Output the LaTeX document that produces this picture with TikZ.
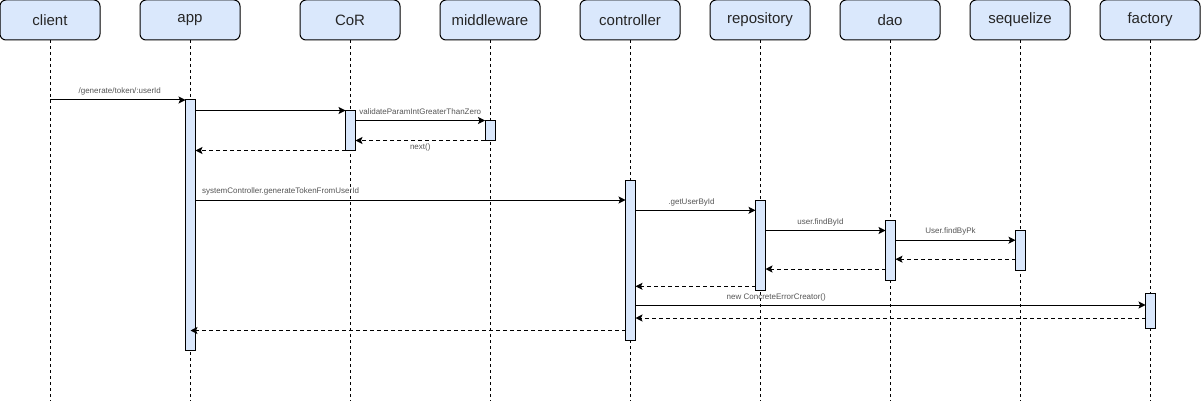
\documentclass[tikz,border=0pt]{standalone}
\usepackage{fontspec}
\setmainfont{Liberation Sans}
\usetikzlibrary{arrows.meta}
\definecolor{hfill}{HTML}{DAE8FC}
\definecolor{lblc}{HTML}{555555}
\tikzset{
  hdr/.style={draw=black, line width=1pt, fill=hfill, rounded corners=6pt,
    minimum width=100pt, minimum height=40pt, inner sep=0pt, outer sep=0pt,
    font=\fontsize{15}{18}\selectfont, text=black!85},
  life/.style={draw=black, line width=1pt, dash pattern=on 3pt off 3pt},
  actbar/.style={draw=black, line width=1pt, fill=hfill, minimum width=10pt,
    inner sep=0pt, outer sep=0pt},
  msg/.style={draw=black, line width=1pt, -{Stealth[length=7pt,width=7pt,inset=1.5pt]}},
  ret/.style={msg, dash pattern=on 4pt off 3pt},
  lbl/.style={font=\fontsize{8}{9.6}\selectfont, text=lblc, inner sep=0pt}
}
\begin{document}
\begin{tikzpicture}[x=1pt,y=-1pt]
\fill[white] (0,0) rectangle (1201,401);
\useasboundingbox (0,0) rectangle (1201,401);
% headers
\node[hdr] (client) at (50,20) {client};
\node[hdr] (app) at (190,20) {app};
\node[hdr] (cor) at (350,20) {CoR};
\node[hdr] (mw) at (490,20) {middleware};
\node[hdr] (ctrl) at (630,20) {controller};
\node[hdr] (repo) at (760,20) {repository};
\node[hdr] (dao) at (890,20) {dao};
\node[hdr] (seq) at (1020,20) {sequelize};
\node[hdr] (fac) at (1150,20) {factory};
% lifeline ends
\coordinate (clientE) at (50,401);
\coordinate (appE) at (190,401);
\coordinate (corE) at (350,401);
\coordinate (mwE) at (490,401);
\coordinate (ctrlE) at (630,401);
\coordinate (repoE) at (760,401);
\coordinate (daoE) at (890,401);
\coordinate (seqE) at (1020,401);
\coordinate (facE) at (1150,401);
\foreach \n in {client,app,cor,mw,ctrl,repo,dao,seq,fac}
  \draw[life] (\n.south) -- (\n E);
% activation bars
\node[actbar, minimum height=250pt] (appA) at (190.5,225) {};
\node[actbar, minimum height=40pt] (corA) at (350.5,130.5) {};
\node[actbar, minimum height=20pt] (mwA) at (490,130.5) {};
\node[actbar, minimum height=160pt] (ctrlA) at (630.5,260.5) {};
\node[actbar, minimum height=90pt] (repoA) at (760.5,245.3) {};
\node[actbar, minimum height=60pt] (daoA) at (890.5,250.5) {};
\node[actbar, minimum height=40pt] (seqA) at (1020.5,250.7) {};
\node[actbar, minimum height=35pt] (facA) at (1150.5,310.5) {};
% message end points
\coordinate (m6) at ([yshift=-19.5pt]ctrlA.north west);
\coordinate (m7) at ([yshift=-10pt]repoA.north west);
\coordinate (m8) at ([yshift=-10pt]daoA.north west);
\coordinate (m9) at ([yshift=-9.5pt]seqA.north west);
\coordinate (m10) at ([yshift=11.5pt]seqA.south west);
\coordinate (m11) at ([yshift=11.5pt]daoA.south west);
\coordinate (m12) at ([yshift=4pt]repoA.south west);
\coordinate (m13) at ([yshift=-12pt]facA.north west);
\coordinate (m14) at ([yshift=10pt]facA.south west);
\coordinate (m15) at ([yshift=10pt]ctrlA.south west);
% messages
\draw[msg] (client.south |- appA.north) -- (appA.north west)
  node[lbl, midway, yshift=8.5pt, xshift=2pt] {/generate/token/:userId};
\draw[msg] (appA.east |- corA.north) -- (corA.north west);
\draw[msg] (corA.east |- mwA.north) -- (mwA.north west)
  node[lbl, midway, yshift=9pt] {validateParamIntGreaterThanZero};
\draw[ret] (mwA.south west) -- (corA.east |- mwA.south)
  node[lbl, midway, yshift=-6.5pt] {next()};
\draw[ret] (corA.south west) -- (appA.east |- corA.south);
\draw[msg] (appA.east |- m6) -- (m6)
  node[lbl, pos=0.014, anchor=west, yshift=9pt] {systemController.generateTokenFromUserId};
\draw[msg] (ctrlA.east |- m7) -- (m7)
  node[lbl, midway, yshift=8pt, xshift=-4pt] {.getUserById};
\draw[msg] (repoA.east |- m8) -- (m8)
  node[lbl, midway, yshift=8.5pt, xshift=-5pt] {user.findById};
\draw[msg] (daoA.east |- m9) -- (m9)
  node[lbl, midway, yshift=9pt, xshift=-5pt] {User.findByPk};
\draw[ret] (m10) -- (daoA.east |- m10);
\draw[ret] (m11) -- (repoA.east |- m11);
\draw[ret] (m12) -- (ctrlA.east |- m12);
\draw[msg] (ctrlA.east |- m13) -- (m13)
  node[lbl, pos=0.276, yshift=8pt] {new ConcreteErrorCreator()};
\draw[ret] (m14) -- (ctrlA.east |- m14);
\draw[ret] (m15) -- (appA |- m15);
\end{tikzpicture}
\end{document}
